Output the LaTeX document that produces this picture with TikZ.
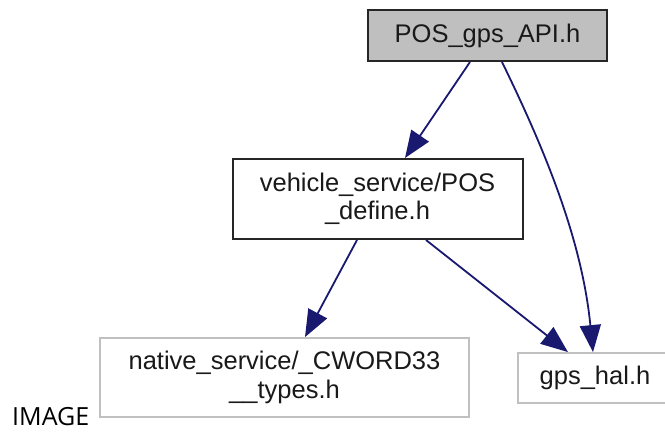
\documentclass[tikz,border=0pt]{standalone}
\usepackage{fontspec}
\setmainfont{Liberation Sans}
\newfontfamily\labelfont{Open Sans}
\usetikzlibrary{arrows.meta}
\definecolor{edgeblue}{HTML}{191970}
\definecolor{grayfill}{HTML}{BFBFBF}
\definecolor{grayline}{HTML}{C0C0C0}
\tikzset{
  filebox/.style={rectangle, inner sep=0pt, align=center,
    font=\fontsize{25.5}{28.5}\selectfont, text=black!90},
  mainbox/.style={filebox, draw=black!85, line width=2pt, fill=grayfill},
  incbox/.style={filebox, draw=black!85, line width=2pt, fill=white},
  extbox/.style={filebox, draw=grayline, line width=1.8pt, fill=white},
  dep/.style={draw=edgeblue, line width=1.8pt,
    -{Triangle[length=27pt,width=21pt]}},
}
\begin{document}
\begin{tikzpicture}[x=1pt,y=-1pt]
\useasboundingbox (0,0) rectangle (665,432);
\clip (0,0) rectangle (665,432);
\fill[white] (0,0) rectangle (665,432);

\node[mainbox, minimum width=239pt, minimum height=51pt] (top) at (487.5,35.5) {POS\_gps\_API.h};
\node[incbox, minimum width=290pt, minimum height=80pt] (mid) at (377.5,199) {vehicle\_service/POS\\\_define.h};
\node[extbox, minimum width=369pt, minimum height=79pt] (nat) at (284.5,377.5) {native\_service/\_CWORD33\\\_\_types.h};
\node[extbox, minimum width=154pt, minimum height=50pt] (gps) at (595,378) {gps\_hal.h};

\node[anchor=base west, inner sep=0pt, font=\labelfont\fontsize{25}{28}\selectfont] (img) at (12,425) {IMAGE};

\draw[dep] ([xshift=-17.5pt]top.south) -- ([xshift=27.5pt]mid.north);
\draw[dep] ([xshift=14.5pt]top.south) .. controls (545,150) and (582,240) .. ([xshift=-2pt]gps.north);
\draw[dep] ([xshift=-20.5pt]mid.south) -- ([xshift=20.5pt]nat.north);
\draw[dep] ([xshift=48.5pt]mid.south) -- ([xshift=-27pt]gps.north);
\end{tikzpicture}
\end{document}
